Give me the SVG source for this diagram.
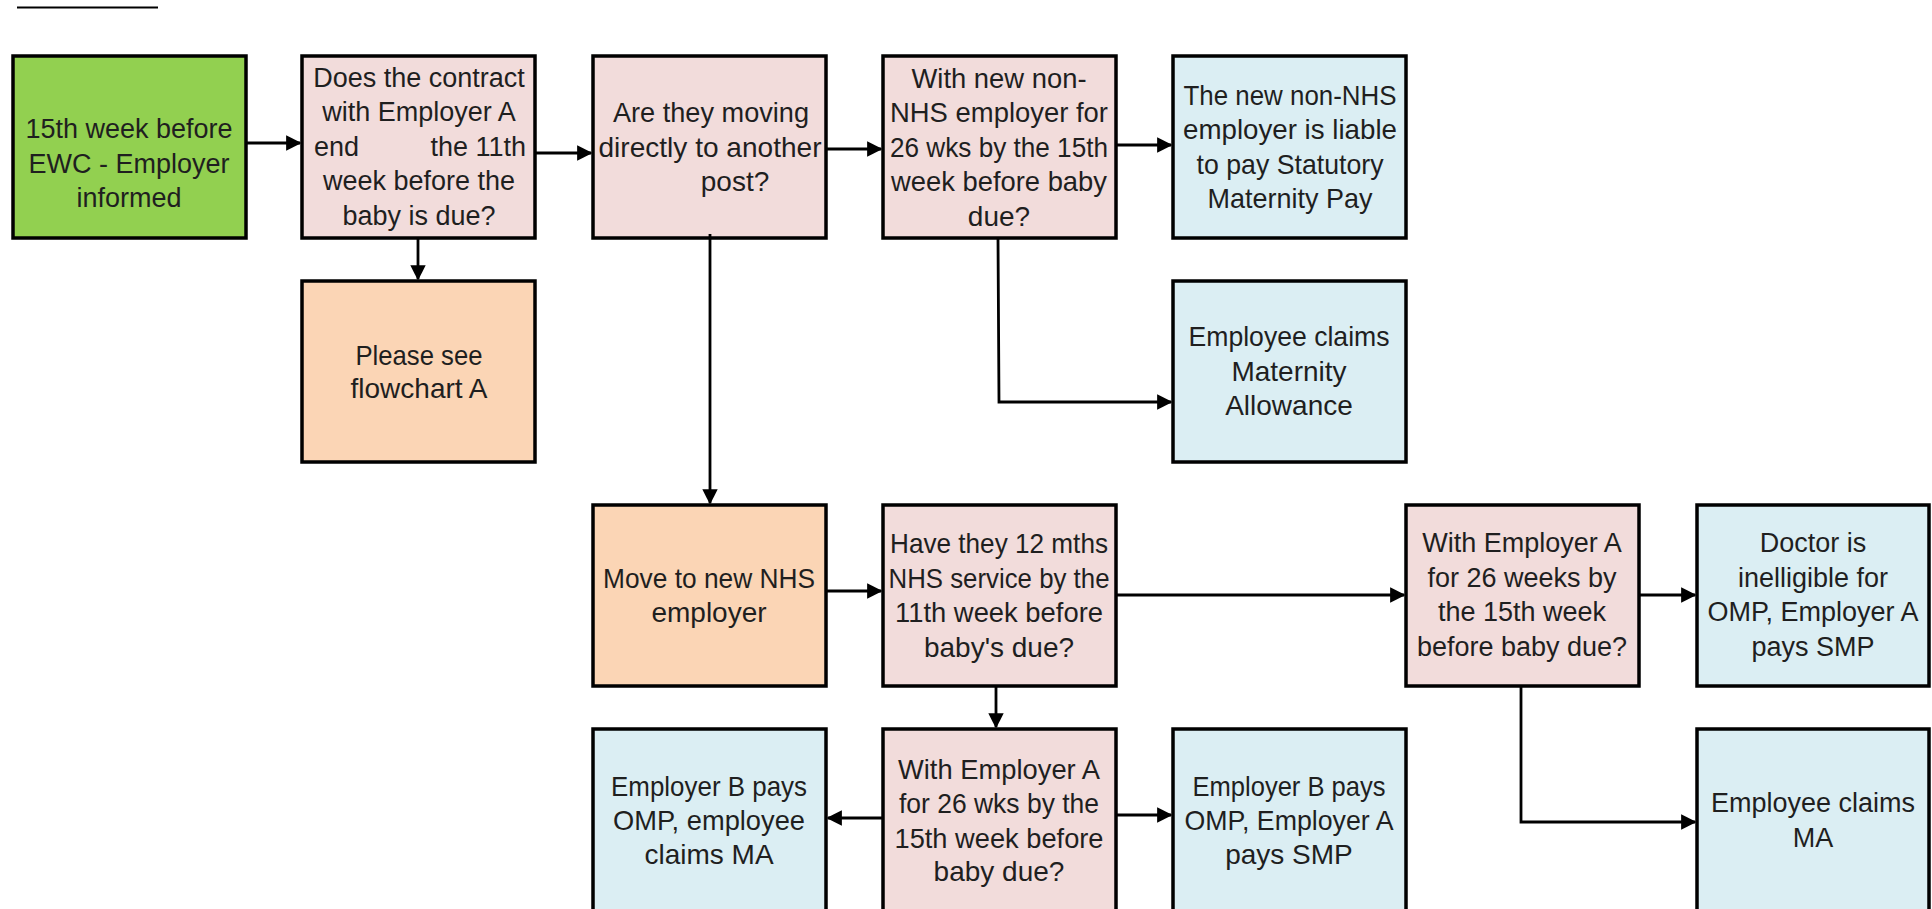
<svg xmlns="http://www.w3.org/2000/svg" width="1932" height="909" viewBox="0 0 1932 909">
<defs>
<style>
.box{stroke:#000;stroke-width:3.5}
.g{fill:#92D050}.p{fill:#F2DCDB}.o{fill:#FBD5B5}.b{fill:#DBEEF3}
text{font-family:"Liberation Sans",Arial,sans-serif;font-size:27px;fill:#1f1f1f;text-anchor:middle;dominant-baseline:central}
.n{font-size:28px}
.c{stroke:#000;stroke-width:2.8;fill:none}
</style>
<marker id="ah" viewBox="0 0 10 10" refX="9" refY="5" markerWidth="5.5" markerHeight="5.5" orient="auto" markerUnits="strokeWidth">
<path d="M0,0 L10,5 L0,10 z" fill="#000"/>
</marker>
</defs>
<rect width="1932" height="909" fill="#fff"/>
<line x1="17" y1="7.5" x2="158" y2="7.5" stroke="#000" stroke-width="2"/>

<g id="n1"><rect class="box g" x="13" y="56" width="233" height="182"/>
<text x="129" y="129">15th week before</text><text x="129" y="164">EWC - Employer</text><text x="129" y="198">informed</text></g>

<g id="n2"><rect class="box p" x="302" y="56" width="233" height="182"/>
<text x="419" y="78">Does the contract</text><text x="419" y="112">with Employer A</text>
<text x="314" y="147" style="text-anchor:start">end</text><text x="526" y="147" style="text-anchor:end">the 11th</text>
<text x="419" y="181">week before the</text><text x="419" y="216">baby is due?</text></g>

<g id="n3"><rect class="box p" x="593" y="56" width="233" height="182"/>
<text class="n" x="711" y="112" textLength="196" lengthAdjust="spacingAndGlyphs">Are they moving</text>
<text class="n" x="710" y="147" textLength="223" lengthAdjust="spacingAndGlyphs">directly to another</text>
<text class="n" x="735" y="181">post?</text></g>

<g id="n4"><rect class="box p" x="883" y="56" width="233" height="182"/>
<text class="n" x="999" y="78" textLength="175" lengthAdjust="spacingAndGlyphs">With new non-</text>
<text class="n" x="999" y="112" textLength="218" lengthAdjust="spacingAndGlyphs">NHS employer for</text>
<text class="n" x="999" y="147" textLength="218" lengthAdjust="spacingAndGlyphs">26 wks by the 15th</text>
<text class="n" x="999" y="181" textLength="216" lengthAdjust="spacingAndGlyphs">week before baby</text>
<text class="n" x="999" y="216">due?</text></g>

<g id="n5"><rect class="box b" x="1173" y="56" width="233" height="182"/>
<text class="n" x="1290" y="95" textLength="213" lengthAdjust="spacingAndGlyphs">The new non-NHS</text>
<text class="n" x="1290" y="129" textLength="214" lengthAdjust="spacingAndGlyphs">employer is liable</text>
<text class="n" x="1290" y="164" textLength="187" lengthAdjust="spacingAndGlyphs">to pay Statutory</text>
<text class="n" x="1290" y="198" textLength="165" lengthAdjust="spacingAndGlyphs">Maternity Pay</text></g>

<g id="n6"><rect class="box o" x="302" y="281" width="233" height="181"/>
<text class="n" x="419" y="355" textLength="127" lengthAdjust="spacingAndGlyphs">Please see</text>
<text class="n" x="419" y="388" textLength="137" lengthAdjust="spacingAndGlyphs">flowchart A</text></g>

<g id="n7"><rect class="box b" x="1173" y="281" width="233" height="181"/>
<text class="n" x="1289" y="336" textLength="201" lengthAdjust="spacingAndGlyphs">Employee claims</text>
<text class="n" x="1289" y="371">Maternity</text>
<text class="n" x="1289" y="405">Allowance</text></g>

<g id="n8"><rect class="box o" x="593" y="505" width="233" height="181"/>
<text class="n" x="709" y="578" textLength="212" lengthAdjust="spacingAndGlyphs">Move to new NHS</text>
<text class="n" x="709" y="612">employer</text></g>

<g id="n9"><rect class="box p" x="883" y="505" width="233" height="181"/>
<text class="n" x="999" y="543" textLength="218" lengthAdjust="spacingAndGlyphs">Have they 12 mths</text>
<text class="n" x="999" y="578" textLength="221" lengthAdjust="spacingAndGlyphs">NHS service by the</text>
<text class="n" x="999" y="612" textLength="208" lengthAdjust="spacingAndGlyphs">11th week before</text>
<text class="n" x="999" y="647">baby's due?</text></g>

<g id="n10"><rect class="box p" x="1406" y="505" width="233" height="181"/>
<text x="1522" y="543">With Employer A</text><text x="1522" y="578">for 26 weeks by</text><text x="1522" y="612">the 15th week</text><text x="1522" y="647">before baby due?</text></g>

<g id="n11"><rect class="box b" x="1697" y="505" width="232" height="181"/>
<text x="1813" y="543">Doctor is</text><text x="1813" y="578">inelligible for</text><text x="1813" y="612">OMP, Employer A</text><text x="1813" y="647">pays SMP</text></g>

<g id="n12"><rect class="box b" x="593" y="729" width="233" height="185"/>
<text class="n" x="709" y="786" textLength="196" lengthAdjust="spacingAndGlyphs">Employer B pays</text>
<text class="n" x="709" y="820" textLength="192" lengthAdjust="spacingAndGlyphs">OMP, employee</text>
<text class="n" x="709" y="854">claims MA</text></g>

<g id="n13"><rect class="box p" x="883" y="729" width="233" height="185"/>
<text class="n" x="999" y="769" textLength="202" lengthAdjust="spacingAndGlyphs">With Employer A</text>
<text class="n" x="999" y="803" textLength="200" lengthAdjust="spacingAndGlyphs">for 26 wks by the</text>
<text class="n" x="999" y="838" textLength="209" lengthAdjust="spacingAndGlyphs">15th week before</text>
<text class="n" x="999" y="871">baby due?</text></g>

<g id="n14"><rect class="box b" x="1173" y="729" width="233" height="185"/>
<text class="n" x="1289" y="786" textLength="193" lengthAdjust="spacingAndGlyphs">Employer B pays</text>
<text class="n" x="1289" y="820" textLength="209" lengthAdjust="spacingAndGlyphs">OMP, Employer A</text>
<text class="n" x="1289" y="854">pays SMP</text></g>

<g id="n15"><rect class="box b" x="1697" y="729" width="232" height="185"/>
<text x="1813" y="803">Employee claims</text><text x="1813" y="838">MA</text></g>

<g id="connectors">
<path class="c" d="M246,143 H300" marker-end="url(#ah)"/>
<path class="c" d="M535,153 H591" marker-end="url(#ah)"/>
<path class="c" d="M826,149 H881" marker-end="url(#ah)"/>
<path class="c" d="M1116,145 H1171" marker-end="url(#ah)"/>
<path class="c" d="M418,238 V279" marker-end="url(#ah)"/>
<path class="c" d="M710,234 V503" marker-end="url(#ah)"/>
<path class="c" d="M998,238 L999,402 H1171" marker-end="url(#ah)"/>
<path class="c" d="M826,591 H881" marker-end="url(#ah)"/>
<path class="c" d="M1116,595 H1404" marker-end="url(#ah)"/>
<path class="c" d="M1639,595 H1695" marker-end="url(#ah)"/>
<path class="c" d="M1521,686 V822 H1695" marker-end="url(#ah)"/>
<path class="c" d="M996,686 V727" marker-end="url(#ah)"/>
<path class="c" d="M883,818 H828" marker-end="url(#ah)"/>
<path class="c" d="M1116,815 H1171" marker-end="url(#ah)"/>
</g>
</svg>
